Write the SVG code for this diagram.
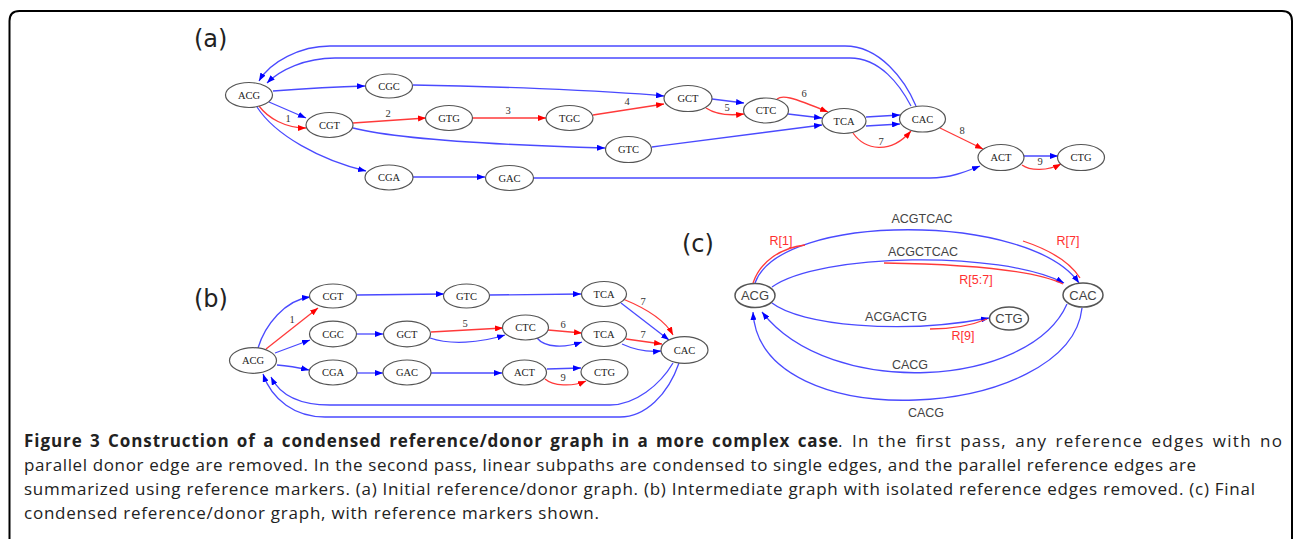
<svg xmlns="http://www.w3.org/2000/svg" width="1295" height="539" viewBox="0 0 1295 539">
<defs>
<style>
.frame{fill:none;stroke:#000;stroke-width:2}
.n ellipse{fill:#fff;stroke:#555;stroke-width:1.2}
.n text{font-family:"Liberation Serif",serif;font-size:10.5px;fill:#222;text-anchor:middle}
.m ellipse{fill:#fff;stroke:#555;stroke-width:1.5}
.m text{font-family:"Liberation Sans",Arial,sans-serif;font-size:13px;fill:#444;text-anchor:middle}
.b{fill:none;stroke:#4a4aff;stroke-width:1.3;marker-end:url(#ab)}
.r{fill:none;stroke:#ff3a3a;stroke-width:1.3;marker-end:url(#ar)}
.bl{fill:none;stroke:#4a4aff;stroke-width:1.3}
.rl{fill:none;stroke:#ff3a3a;stroke-width:1.3}
.el{font-family:"Liberation Serif",serif;font-size:10.5px;fill:#333;text-anchor:middle}
.cl{font-family:"Liberation Sans",Arial,sans-serif;font-size:12.5px;fill:#444;text-anchor:middle}
.rm{font-family:"Liberation Sans",Arial,sans-serif;font-size:12.5px;fill:#ff3030;text-anchor:middle}
.pl{font-family:"DejaVu Sans",sans-serif;font-size:24px;fill:#222}
.cap{font-family:"Open Sans","Noto Sans",sans-serif;font-size:17px;fill:#222}
</style>
<marker id="ab" viewBox="0 0 8 6" refX="8" refY="3" markerWidth="8" markerHeight="6" markerUnits="userSpaceOnUse" orient="auto"><path d="M0,0 L8,3 L0,6 z" fill="#0000ff"/></marker>
<marker id="ar" viewBox="0 0 8 6" refX="8" refY="3" markerWidth="8" markerHeight="6" markerUnits="userSpaceOnUse" orient="auto"><path d="M0,0 L8,3 L0,6 z" fill="#ff0000"/></marker>
</defs>
<rect width="1295" height="539" fill="#fff"/>
<path class="frame" d="M9.5 539 V21 Q9.5 11 19.5 11 H1282 Q1292 11 1292 21 V539"/>

<text class="pl" x="194" y="47">(a)</text>
<text class="pl" x="194" y="307">(b)</text>
<text class="pl" x="682" y="252">(c)</text>

<g id="connectors">
<!-- panel a -->
<path class="b" d="M916 106 C905 80 880 46 845 46 L330 46 C300 46 270 62 259 81"/>
<path class="b" d="M911 106 C900 85 880 58 850 58 L335 58 C305 58 280 70 267 83"/>
<path class="b" d="M273 91 C300 89 330 87 365 86"/>
<path class="b" d="M269 102 L306 118"/>
<path class="r" d="M259 106 C268 118 285 128 306 128"/>
<path class="b" d="M257 107 C275 135 320 160 366 171"/>
<path class="b" d="M413 177 L485 177"/>
<path class="r" d="M353 123 L426 118"/>
<path class="r" d="M473 118 L546 118"/>
<path class="r" d="M593 115 L664 104"/>
<path class="b" d="M413 85 C480 86 600 90 664 96"/>
<path class="b" d="M353 128 C400 140 500 145 605 148"/>
<path class="b" d="M712 99 L744 103"/>
<path class="r" d="M706 108 C715 114 728 116 744 114"/>
<path class="r" d="M777 99 C782 95 790 96 828 112"/>
<path class="b" d="M788 114 L822 118"/>
<path class="b" d="M652 147 C720 138 790 129 822 125"/>
<path class="b" d="M866 117 L900 115"/>
<path class="b" d="M866 126 L900 124"/>
<path class="r" d="M853 133 C865 150 890 155 911 131"/>
<path class="r" d="M940 128 L983 149"/>
<path class="b" d="M1024 156 L1058 156"/>
<path class="r" d="M1022 165 C1030 171 1048 171 1061 164"/>
<path class="b" d="M533 178 L930 178 C950 178 965 172 980 166"/>
<!-- panel b -->
<path class="b" d="M258 348 C265 325 285 300 310 297"/>
<path class="r" d="M266 349 L318 308"/>
<path class="b" d="M275 353 L310 340"/>
<path class="b" d="M277 365 C290 366 300 368 309 370"/>
<path class="b" d="M357 295 L444 294"/>
<path class="b" d="M489 295 L581 294"/>
<path class="b" d="M357 334 L383 334"/>
<path class="r" d="M431 332 L503 328"/>
<path class="b" d="M430 338 C450 345 480 343 505 335"/>
<path class="r" d="M548 330 L582 333"/>
<path class="b" d="M537 338 C545 348 565 348 582 342"/>
<path class="r" d="M623 299 C645 308 665 320 673 335"/>
<path class="b" d="M621 303 L669 340"/>
<path class="r" d="M626 339 L662 344"/>
<path class="b" d="M622 344 C635 350 650 352 661 351"/>
<path class="b" d="M357 373 L383 373"/>
<path class="b" d="M430 373 L502 373"/>
<path class="b" d="M547 369 L581 368"/>
<path class="r" d="M545 379 C553 386 572 387 586 381"/>
<path class="b" d="M673 363 C660 385 635 405 610 405 L330 405 C300 405 280 395 271 377"/>
<path class="b" d="M679 363 C668 395 645 417 620 417 L325 417 C295 417 272 400 263 374"/>
<!-- panel c -->
<path class="b" d="M755 283 C780 212 1030 212 1079 283"/>
<path class="b" d="M772 287 C820 253 1000 250 1064 283"/>
<path class="b" d="M772 303 C800 325 900 335 989 318"/>
<path class="b" d="M1067 304 C1030 388 830 400 762 312"/>
<path class="b" d="M1082 308 C1070 420 760 440 753 312"/>
<path class="rl" d="M753 283 C760 262 780 248 805 245"/>
<path class="rl" d="M1023 241 C1050 250 1070 262 1080 278"/>
<path class="rl" d="M884 263 C950 264 1030 268 1063 284"/>
<path class="rl" d="M930 329 C955 329 975 324 987 319"/>
</g>

<g id="edge-labels">
<text class="el" x="288" y="122">1</text>
<text class="el" x="388" y="117">2</text>
<text class="el" x="508" y="114">3</text>
<text class="el" x="627" y="105">4</text>
<text class="el" x="727" y="111">5</text>
<text class="el" x="804" y="97">6</text>
<text class="el" x="881" y="145">7</text>
<text class="el" x="962" y="134">8</text>
<text class="el" x="1040" y="165">9</text>
<text class="el" x="292" y="323">1</text>
<text class="el" x="465" y="327">5</text>
<text class="el" x="563" y="328">6</text>
<text class="el" x="643" y="305">7</text>
<text class="el" x="643" y="338">7</text>
<text class="el" x="563" y="381">9</text>
<text class="cl" x="922" y="223">ACGTCAC</text>
<text class="cl" x="923" y="256">ACGCTCAC</text>
<text class="cl" x="896" y="321">ACGACTG</text>
<text class="cl" x="910" y="369">CACG</text>
<text class="cl" x="926" y="417">CACG</text>
<text class="rm" x="781" y="245">R[1]</text>
<text class="rm" x="1068" y="245">R[7]</text>
<text class="rm" x="976" y="284">R[5:7]</text>
<text class="rm" x="963" y="340">R[9]</text>
</g>

<!-- panel a nodes -->
<g id="a-ACG" class="n"><ellipse cx="249" cy="95" rx="23.5" ry="12.5"/><text x="249" y="98.5">ACG</text></g>
<g id="a-CGC" class="n"><ellipse cx="389" cy="86" rx="23.5" ry="12"/><text x="389" y="89.5">CGC</text></g>
<g id="a-CGT" class="n"><ellipse cx="329.5" cy="125" rx="23.5" ry="12.5"/><text x="329.5" y="128.5">CGT</text></g>
<g id="a-GTG" class="n"><ellipse cx="449" cy="118" rx="23.5" ry="12.5"/><text x="449" y="121.5">GTG</text></g>
<g id="a-TGC" class="n"><ellipse cx="569.5" cy="118" rx="23.5" ry="12.5"/><text x="569.5" y="121.5">TGC</text></g>
<g id="a-GCT" class="n"><ellipse cx="688" cy="98.5" rx="24" ry="13"/><text x="688" y="102">GCT</text></g>
<g id="a-CTC" class="n"><ellipse cx="766" cy="110.5" rx="22.5" ry="12.5"/><text x="766" y="114">CTC</text></g>
<g id="a-TCA" class="n"><ellipse cx="844" cy="121" rx="22" ry="12.5"/><text x="844" y="124.5">TCA</text></g>
<g id="a-GTC" class="n"><ellipse cx="628.5" cy="149.5" rx="23" ry="13"/><text x="628.5" y="153">GTC</text></g>
<g id="a-CAC" class="n"><ellipse cx="922.5" cy="119" rx="23" ry="13"/><text x="922.5" y="122.5">CAC</text></g>
<g id="a-ACT" class="n"><ellipse cx="1001" cy="157.5" rx="23" ry="13"/><text x="1001" y="161">ACT</text></g>
<g id="a-CTG" class="n"><ellipse cx="1081" cy="157.5" rx="23.5" ry="13"/><text x="1081" y="161">CTG</text></g>
<g id="a-CGA" class="n"><ellipse cx="389" cy="177.5" rx="24" ry="12.5"/><text x="389" y="181">CGA</text></g>
<g id="a-GAC" class="n"><ellipse cx="509.5" cy="178" rx="24" ry="12.5"/><text x="509.5" y="181.5">GAC</text></g>

<!-- panel b nodes -->
<g id="b-ACG" class="n"><ellipse cx="253" cy="360.5" rx="23.5" ry="12.8"/><text x="253" y="364">ACG</text></g>
<g id="b-CGT" class="n"><ellipse cx="333" cy="296" rx="23.5" ry="12"/><text x="333" y="299.5">CGT</text></g>
<g id="b-GTC" class="n"><ellipse cx="466.5" cy="296" rx="23" ry="12"/><text x="466.5" y="299.5">GTC</text></g>
<g id="b-CGC" class="n"><ellipse cx="333" cy="334" rx="23.5" ry="12.8"/><text x="333" y="337.5">CGC</text></g>
<g id="b-GCT" class="n"><ellipse cx="407" cy="334" rx="23.5" ry="12.8"/><text x="407" y="337.5">GCT</text></g>
<g id="b-CTC" class="n"><ellipse cx="525.5" cy="327.5" rx="23" ry="12.5"/><text x="525.5" y="331">CTC</text></g>
<g id="b-TCA1" class="n"><ellipse cx="604" cy="294" rx="22.5" ry="12.5"/><text x="604" y="297.5">TCA</text></g>
<g id="b-TCA2" class="n"><ellipse cx="604" cy="334" rx="22.5" ry="12.5"/><text x="604" y="337.5">TCA</text></g>
<g id="b-CAC" class="n"><ellipse cx="684.5" cy="350" rx="23.5" ry="13.3"/><text x="684.5" y="353.5">CAC</text></g>
<g id="b-CGA" class="n"><ellipse cx="333" cy="372.5" rx="24" ry="12.5"/><text x="333" y="376">CGA</text></g>
<g id="b-GAC" class="n"><ellipse cx="407" cy="372.5" rx="24" ry="12.5"/><text x="407" y="376">GAC</text></g>
<g id="b-ACT" class="n"><ellipse cx="524.5" cy="372.5" rx="22" ry="12.5"/><text x="524.5" y="376">ACT</text></g>
<g id="b-CTG" class="n"><ellipse cx="604.5" cy="372" rx="23.5" ry="12.5"/><text x="604.5" y="375.5">CTG</text></g>

<!-- panel c nodes -->
<g id="c-ACG" class="m"><ellipse cx="755" cy="295.5" rx="20" ry="12"/><text x="755" y="300">ACG</text></g>
<g id="c-CAC" class="m"><ellipse cx="1083" cy="295" rx="20" ry="12"/><text x="1083" y="299.5">CAC</text></g>
<g id="c-CTG" class="m"><ellipse cx="1009" cy="318.5" rx="19.5" ry="11.5"/><text x="1009" y="323">CTG</text></g>

<g id="caption">
<text class="cap" x="24" y="447" font-weight="bold" word-spacing="2" textLength="814" lengthAdjust="spacing">Figure 3 Construction of a condensed reference/donor graph in a more complex case</text>
<text class="cap" x="838" y="447" word-spacing="2.5" textLength="444" lengthAdjust="spacing">. In the first pass, any reference edges with no</text>
<text class="cap" x="24" y="471" textLength="1172" lengthAdjust="spacing">parallel donor edge are removed. In the second pass, linear subpaths are condensed to single edges, and the parallel reference edges are</text>
<text class="cap" x="24" y="495" textLength="1231" lengthAdjust="spacing">summarized using reference markers. (a) Initial reference/donor graph. (b) Intermediate graph with isolated reference edges removed. (c) Final</text>
<text class="cap" x="24" y="519" textLength="575" lengthAdjust="spacing">condensed reference/donor graph, with reference markers shown.</text>
</g>
</svg>
